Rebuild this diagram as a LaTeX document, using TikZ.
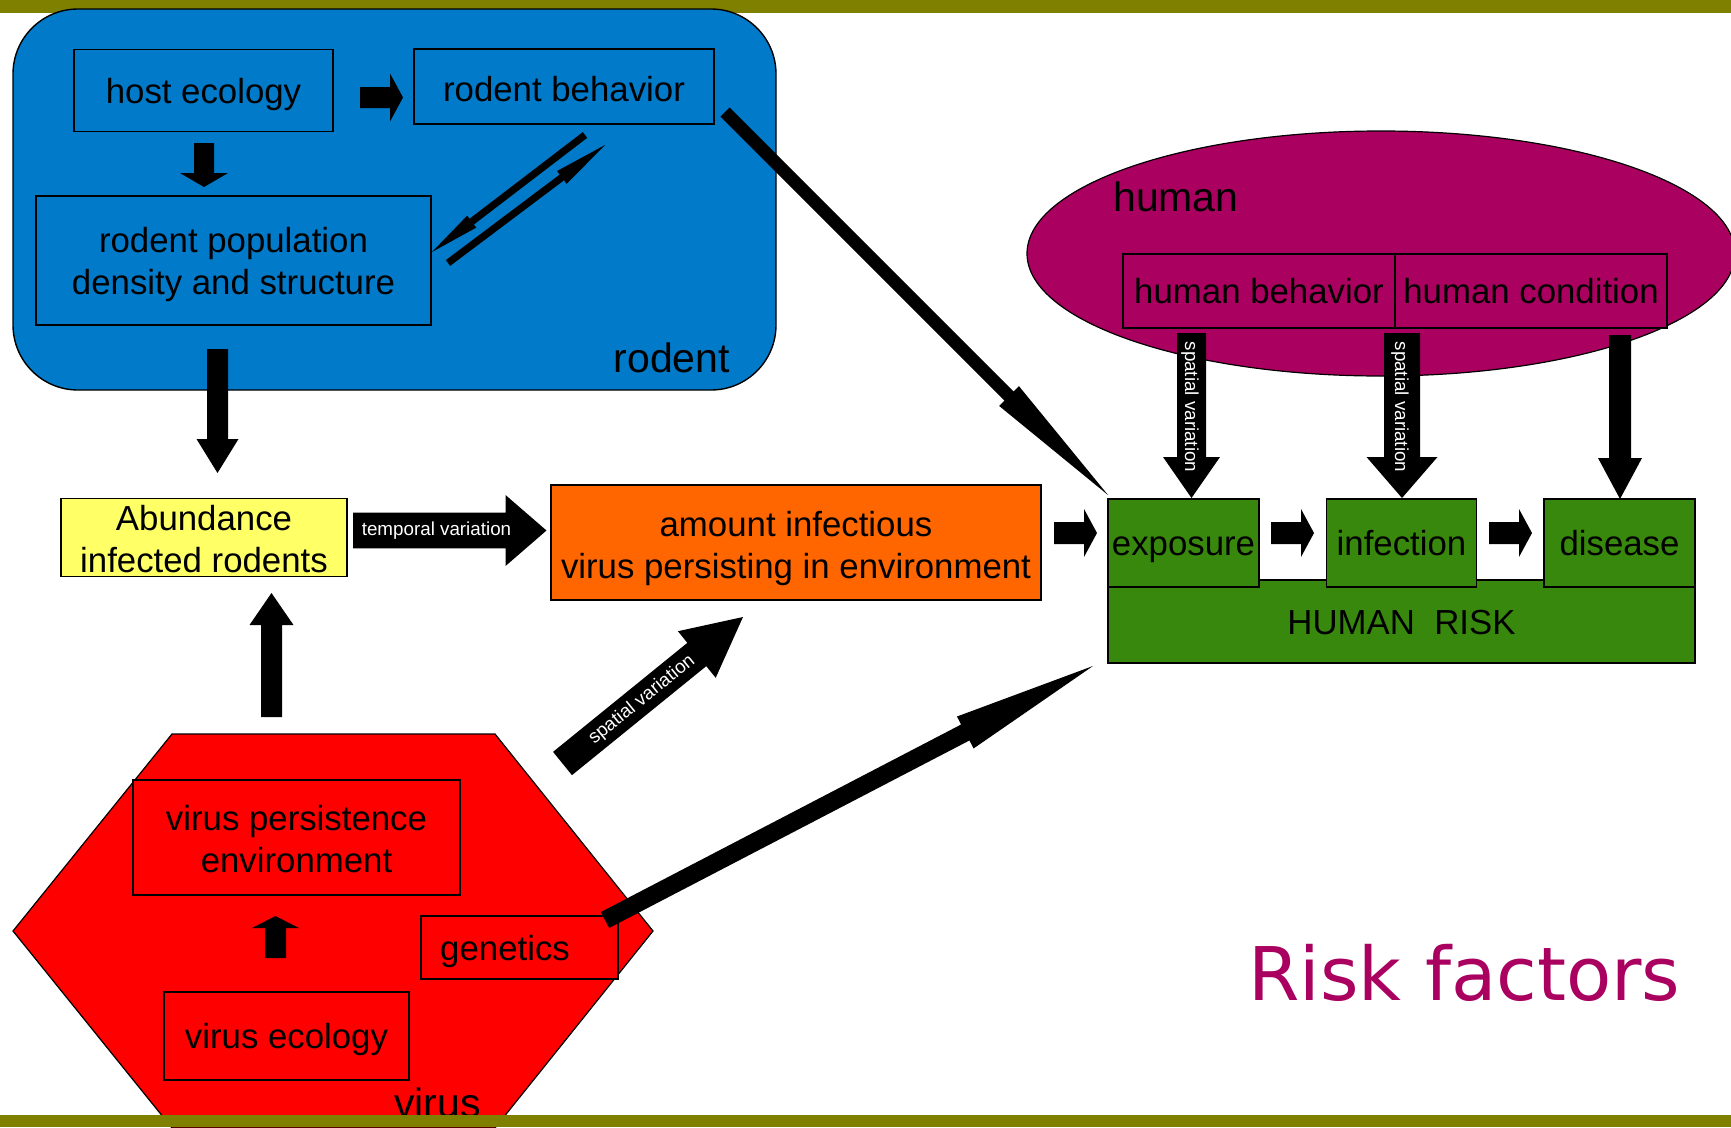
\documentclass[tikz,border=0pt]{standalone}
\usepackage{fontspec}
\setmainfont{Liberation Sans}
\newfontfamily\riskfont{DejaVu Sans}
\usetikzlibrary{calc,shapes.geometric}
\definecolor{olivebar}{RGB}{128,128,0}
\definecolor{rodentblue}{RGB}{0,122,201}
\definecolor{abyellow}{RGB}{255,255,102}
\definecolor{amorange}{RGB}{255,102,0}
\definecolor{riskgreen}{RGB}{56,136,14}
\definecolor{humanmag}{RGB}{170,0,95}
\definecolor{virusred}{RGB}{255,0,0}
\newcommand\bxfont{\fontsize{34.8}{42}\selectfont}
\newcommand\lblfont{\fontsize{41}{48}\selectfont}
\newcommand\smfont{\fontsize{18.8}{22}\selectfont}
% block arrow: #1 tail, #2 tip, #3 half shaft width, #4 half head width, #5 head length
\newcommand\blockarr[5]{%
  \coordinate (bahead) at ($(#2)!#5!(#1)$);
  \fill[arrowfill] ($(#1)!#3!90:(#2)$) -- ($(bahead)!#3!90:(#2)$) -- ($(bahead)!#4!90:(#2)$) -- (#2)
    -- ($(bahead)!#4!-90:(#2)$) -- ($(bahead)!#3!-90:(#2)$) -- ($(#1)!#3!-90:(#2)$) -- cycle;}
\begin{document}
\begin{tikzpicture}[x=1pt,y=-1pt,
  box/.style={draw=black,line width=1.6pt,inner sep=0pt,align=center,font=\bxfont,text height=25pt,text depth=0pt},
  frame/.style={draw=black,line width=1.6pt,inner sep=0pt},
  btext/.style={inner sep=0pt,align=center,font=\bxfont},
  lbl/.style={inner sep=0pt,font=\lblfont},
  arrowtext/.style={text=white,inner sep=0pt,font=\smfont},
  arrowfill/.style={fill=black}]
\useasboundingbox (0,0) rectangle (1731,1127);
\fill[white] (0,0) rectangle (1731,1127);
\fill[olivebar] (0,0) rectangle (1731,13);

% ---------- rodent group ----------
\node[draw=black,line width=1.4pt,fill=rodentblue,rounded corners=65pt,minimum width=763pt,minimum height=381pt,inner sep=0pt] (rodent) at (394.5,199.5) {};
\node[box,fill=rodentblue,minimum width=259pt,minimum height=82pt] (he) at (203.5,90.5) {host ecology};
\node[frame,fill=rodentblue,minimum width=300pt,minimum height=75pt] (rb) at (564,86.5) {};
\node[btext,anchor=base] (rbtxt) at (564,101) {rodent behavior};
\node[frame,fill=rodentblue,minimum width=395pt,minimum height=129pt] (rp) at (233.5,260.5) {};
\node[btext] (rptxt) at (233.5,264.9) {rodent population\\density and structure};
\node[lbl,anchor=base east] (rodentlbl) at (730,372) {rodent};

\coordinate (a1t) at (360,97.5);  \coordinate (a1h) at (403,97.5);
\blockarr{a1t}{a1h}{10.5pt}{24pt}{13pt}
\coordinate (a2t) at (204,143);   \coordinate (a2h) at (204,187);
\blockarr{a2t}{a2h}{10pt}{24pt}{14pt}
\coordinate (a3t) at (585,135);   \coordinate (a3h) at (432,252);
\blockarr{a3t}{a3h}{3.6pt}{7.5pt}{50pt}
\coordinate (a4t) at (448,263);   \coordinate (a4h) at (605,145);
\blockarr{a4t}{a4h}{3.6pt}{8pt}{54pt}

% ---------- human group ----------
\node[ellipse,draw=black,line width=1.2pt,fill=humanmag,minimum width=708pt,minimum height=245pt,inner sep=0pt] (human) at (1381,253.5) {};
\node[lbl,anchor=base west] (humanlbl) at (1113,211) {human};
\node[box,fill=humanmag,minimum width=272pt,minimum height=74pt] (hb) at (1259,291) {human behavior};
\node[box,fill=humanmag,minimum width=272pt,minimum height=74pt] (hc) at (1531,291) {human condition};

% ---------- human risk ----------
\node[frame,fill=riskgreen,minimum width=587pt,minimum height=83pt] (hr) at (1401.5,621.5) {};
\node[btext] (hrtxt) at (1401.5,623) {HUMAN\ \ RISK};
\node[box,fill=riskgreen,minimum width=151pt,minimum height=88pt] (ex) at (1183.5,543) {exposure};
\node[box,fill=riskgreen,minimum width=150pt,minimum height=88pt] (inf) at (1401.5,543) {infection};
\node[box,fill=riskgreen,minimum width=151pt,minimum height=88pt] (dis) at (1619.5,543) {disease};

\coordinate (s1t) at (1191.5,333); \coordinate (s1h) at (1191.5,498);
\blockarr{s1t}{s1h}{14.5pt}{28.5pt}{41pt}
\node[arrowtext,rotate=-90] (s1txt) at (1190,407) {spatial variation};
\coordinate (s2t) at (1402,333);   \coordinate (s2h) at (1402,498);
\blockarr{s2t}{s2h}{18pt}{35.5pt}{41pt}
\node[arrowtext,rotate=-90] (s2txt) at (1400,407) {spatial variation};
\coordinate (s3t) at (1620,335);   \coordinate (s3h) at (1620,499);
\blockarr{s3t}{s3h}{11pt}{22pt}{41pt}

% ---------- middle row ----------
\node[frame,fill=abyellow,minimum width=286pt,minimum height=78pt] (ab) at (204,537.5) {};
\node[btext] (abtxt) at (204,538.6) {Abundance\\ infected rodents};
\node[frame,fill=amorange,minimum width=490pt,minimum height=115pt] (am) at (796,542.5) {};
\node[btext] (amtxt) at (796,548) {amount infectious\\virus persisting in environment};

\coordinate (a6t) at (217.5,349); \coordinate (a6h) at (217.5,473);
\blockarr{a6t}{a6h}{10.5pt}{21pt}{34pt}
\coordinate (a7t) at (353,530.5); \coordinate (a7h) at (546.5,530.5);
\blockarr{a7t}{a7h}{17.8pt}{35.5pt}{41pt}
\node[arrowtext] (a7txt) at (436.5,531) {temporal variation};
\coordinate (a8t) at (1054,533); \coordinate (a8h) at (1097,533);
\blockarr{a8t}{a8h}{11pt}{24pt}{13pt}
\coordinate (a9t) at (1271,533); \coordinate (a9h) at (1314,533);
\blockarr{a9t}{a9h}{11pt}{24pt}{13pt}
\coordinate (a10t) at (1489,533); \coordinate (a10h) at (1532,533);
\blockarr{a10t}{a10h}{11pt}{24pt}{13pt}

% ---------- virus group ----------
\draw[line width=1.2pt,fill=virusred] (172,734) -- (495,734) -- (653,931) -- (495,1128) -- (172,1128) -- (13,931) -- cycle;
\node[frame,fill=virusred,minimum width=327pt,minimum height=115pt] (vp) at (296.5,837.5) {};
\node[btext] (vptxt) at (296.5,838.6) {virus persistence\\environment};
\node[frame,fill=virusred,minimum width=197pt,minimum height=63pt] (ge) at (519.5,947.5) {};
\node[btext,anchor=base west] (getxt) at (440,960.5) {genetics};
\node[box,fill=virusred,minimum width=245pt,minimum height=88pt] (ve) at (286.5,1036) {virus ecology};
\coordinate (a17t) at (275.5,958); \coordinate (a17h) at (275.5,916);
\blockarr{a17t}{a17h}{10.5pt}{23.5pt}{12pt}
\node[lbl,anchor=base east] (viruslbl) at (481,1117) {virus};

% ---------- long arrows ----------
\coordinate (a14t) at (271.5,717); \coordinate (a14h) at (271.5,593);
\blockarr{a14t}{a14h}{10.5pt}{22pt}{32pt}
\coordinate (a15t) at (562.5,763.5); \coordinate (a15h) at (743,617);
\blockarr{a15t}{a15h}{15pt}{30pt}{59.5pt}
\node[arrowtext,rotate=39] (a15txt) at (642,700) {spatial variation};
\coordinate (a16t) at (605,920); \coordinate (a16h) at (1093,666);
\blockarr{a16t}{a16h}{9pt}{18pt}{144pt}
\coordinate (a5t) at (725,112); \coordinate (a5h) at (1108,495);
\blockarr{a5t}{a5h}{6.5pt}{14pt}{140pt}

% ---------- frame / title ----------
\fill[olivebar] (0,1115) rectangle (1731,1127);
\node[anchor=base west,inner sep=0pt,text=humanmag,font=\riskfont\fontsize{74}{80}\selectfont] (title) at (1248,1000) {Risk factors};
\end{tikzpicture}
\end{document}
